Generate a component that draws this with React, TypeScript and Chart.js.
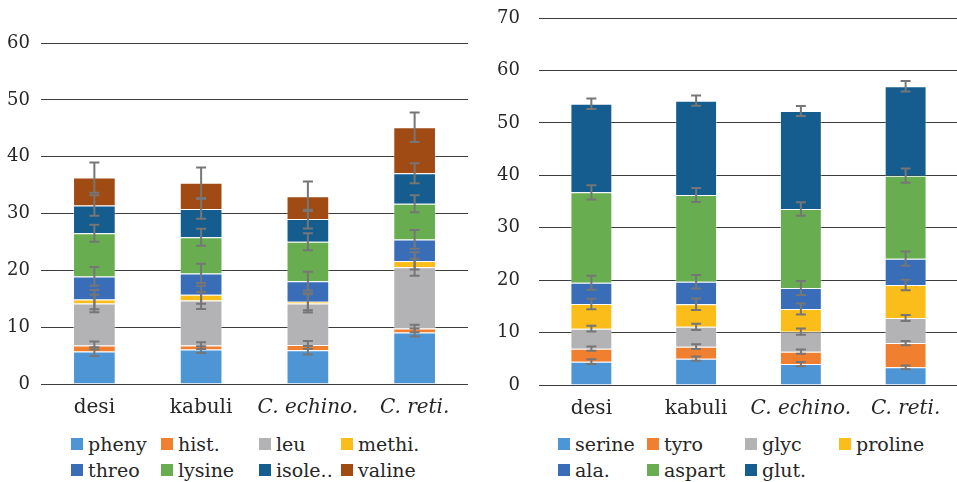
import React, { useEffect, useRef } from "react";
import { Chart, registerables } from "chart.js";

Chart.register(...registerables);

const FONT = "'DejaVu Serif', serif";
const TEXT_COLOR = "#262626";

// ---------- data ----------
const categories = ["desi", "kabuli", "C. echino.", "C. reti."];
const italicCategory = [false, false, true, true];

// Left chart (essential amino acids)
const leftNames = ["pheny", "hist.", "leu", "methi.", "threo", "lysine", "isole..", "valine"];
const leftColors = ["#4e95d6", "#f08030", "#b3b3b6", "#fbbd19", "#3a6db8", "#68ae50", "#155d8e", "#a04b14"];
const pheny = [5.7, 6.05, 5.94, 9.06];
const hist = [1.06, 0.71, 0.94, 0.7];
const leu = [7.4, 7.94, 7.3, 10.8];
const methi = [0.7, 1.0, 0.3, 1.1];
const threo = [4.06, 3.76, 3.6, 3.77];
const lysine = [7.6, 6.35, 6.94, 6.3];
const isole = [4.9, 5.0, 4.0, 5.35];
const valine = [4.9, 4.6, 4.0, 8.1];

const phenyErr = [0.76, 0.6, 0.75, 0.7];
const histErr = [0.7, 0.6, 0.7, 0.65];
const leuErr = [1.55, 1.5, 1.6, 1.5];
const methiErr = [1.7, 1.6, 1.5, 1.5];
const threoErr = [1.65, 1.7, 1.65, 1.65];
const lysineErr = [1.5, 1.5, 1.5, 1.5];
const isoleErr = [1.8, 1.75, 1.65, 1.75];
const valineErr = [2.65, 2.7, 2.6, 2.6];

const leftTicksMax = 60;

// Right chart (non-essential amino acids)
const rightNames = ["serine", "tyro", "glyc", "proline", "ala.", "aspart", "glut."];
const rightColors = ["#4e95d6", "#f08030", "#b3b3b6", "#fbbd19", "#3a6db8", "#68ae50", "#155d8e"];
const serine = [4.45, 5.02, 4.0, 3.37];
const tyro = [2.48, 2.28, 2.35, 4.63];
const glyc = [3.81, 3.8, 3.82, 4.78];
const proline = [4.71, 4.3, 4.33, 6.29];
const ala = [4.05, 4.3, 4.0, 5.03];
const aspart = [17.25, 16.54, 15.07, 15.83];
const glut = [16.9, 18.0, 18.7, 17.04];

const serineErr = [0.45, 0.4, 0.4, 0.35];
const tyroErr = [0.4, 0.45, 0.4, 0.4];
const glycErr = [0.55, 0.6, 0.6, 0.55];
const prolineErr = [1.0, 1.1, 1.05, 1.0];
const alaErr = [1.35, 1.3, 1.35, 1.35];
const aspartErr = [1.35, 1.35, 1.3, 1.35];
const glutErr = [1.0, 1.0, 0.95, 1.0];

const rightTicksMax = 70;

const leftSeries = [pheny, hist, leu, methi, threo, lysine, isole, valine];
const leftErrors = [phenyErr, histErr, leuErr, methiErr, threoErr, lysineErr, isoleErr, valineErr];
const rightSeries = [serine, tyro, glyc, proline, ala, aspart, glut];
const rightErrors = [serineErr, tyroErr, glycErr, prolineErr, alaErr, aspartErr, glutErr];

type ChartProps = {
  names: string[];
  colors: string[];
  series: number[][];
  errors: number[][];
  max: number;
  width: number;
  height: number;
  padTop: number;
  padRight: number;
  yWidth: number;
  yPad: number;
};

function StackedChart(p: ChartProps) {
  const ref = useRef<HTMLCanvasElement | null>(null);
  useEffect(() => {
    if (!ref.current) return;
    const errorBars = {
      id: "errorBars",
      afterDatasetsDraw(chart: any) {
        const ctx = chart.ctx;
        const y = chart.scales.y;
        ctx.save();
        ctx.strokeStyle = "#767676";
        ctx.lineWidth = 2;
        chart.data.datasets.forEach((ds: any, i: number) => {
          const meta = chart.getDatasetMeta(i);
          meta.data.forEach((bar: any, j: number) => {
            let cum = 0;
            for (let k = 0; k <= i; k++) cum += chart.data.datasets[k].data[j];
            const e = p.errors[i][j];
            const yt = y.getPixelForValue(cum + e);
            const yb = y.getPixelForValue(cum - e);
            const x = bar.x;
            ctx.beginPath();
            ctx.moveTo(x, yt);
            ctx.lineTo(x, yb);
            ctx.moveTo(x - 5, yt);
            ctx.lineTo(x + 5, yt);
            ctx.moveTo(x - 5, yb);
            ctx.lineTo(x + 5, yb);
            ctx.stroke();
          });
        });
        ctx.restore();
      },
    };
    const chart = new Chart(ref.current, {
      type: "bar",
      data: {
        labels: categories,
        datasets: p.series.map((d, i) => ({
          label: p.names[i],
          data: d,
          backgroundColor: p.colors[i],
          borderColor: "rgba(255,255,255,0.35)",
          borderWidth: 1,
          barPercentage: 0.4,
          categoryPercentage: 1,
        })),
      },
      options: {
        animation: false,
        responsive: false,
        maintainAspectRatio: false,
        layout: { padding: { top: p.padTop, right: p.padRight, left: 0, bottom: 0 } },
        plugins: { legend: { display: false }, tooltip: { enabled: false } },
        scales: {
          x: {
            stacked: true,
            grid: { display: false },
            border: { display: false },
            afterFit: (s: any) => {
              s.height = 40;
              s.paddingLeft = 0;
              s.paddingRight = 0;
            },
            ticks: {
              padding: 4,
              maxRotation: 0,
              minRotation: 0,
              autoSkip: false,
              color: TEXT_COLOR,
              font: (c: any) => ({
                family: FONT,
                size: 20,
                style: italicCategory[c.index] ? "italic" : "normal",
              }),
            },
          },
          y: {
            stacked: true,
            min: 0,
            max: p.max,
            afterFit: (s: any) => {
              s.width = p.yWidth;
              s.paddingTop = 0;
              s.paddingBottom = 0;
            },
            grid: { color: "#3d3d3d", lineWidth: 1, drawTicks: false },
            border: { display: false },
            ticks: {
              stepSize: 10,
              padding: p.yPad,
              color: TEXT_COLOR,
              font: { family: FONT, size: 18 },
            },
          },
        },
      },
      plugins: [errorBars],
    } as any);
    return () => chart.destroy();
  }, []);
  return <canvas ref={ref} width={p.width} height={p.height} style={{ display: "block" }} />;
}

function Legend(props: { names: string[]; colors: string[]; left: number; cols: string }) {
  return (
    <div
      style={{
        position: "absolute",
        left: props.left,
        top: 431,
        display: "grid",
        gridTemplateColumns: props.cols,
        fontFamily: FONT,
        fontSize: 19,
        color: TEXT_COLOR,
      }}
    >
      {props.names.map((n, i) => (
        <div key={n} style={{ display: "flex", alignItems: "center", height: 26, whiteSpace: "nowrap" }}>
          <span style={{ width: 12, height: 12, background: props.colors[i], marginRight: 5, flex: "none" }} />
          <span style={{ lineHeight: "26px" }}>{n}</span>
        </div>
      ))}
    </div>
  );
}

export default function App() {
  return (
    <div style={{ position: "fixed", left: 0, top: 0, width: 957, height: 482, background: "#fff", overflow: "hidden" }}>
      <div style={{ position: "absolute", left: 0, top: 0 }}>
        <StackedChart
          names={leftNames}
          colors={leftColors}
          series={leftSeries}
          errors={leftErrors}
          max={leftTicksMax}
          width={478}
          height={424}
          padTop={43}
          padRight={10}
          yWidth={41}
          yPad={11}
        />
      </div>
      <div style={{ position: "absolute", left: 480, top: 0 }}>
        <StackedChart
          names={rightNames}
          colors={rightColors}
          series={rightSeries}
          errors={rightErrors}
          max={rightTicksMax}
          width={478}
          height={425}
          padTop={18}
          padRight={0}
          yWidth={59}
          yPad={19}
        />
      </div>
      <Legend names={leftNames} colors={leftColors} left={71} cols="90px 98px 82px auto" />
      <Legend names={rightNames} colors={rightColors} left={558} cols="89px 98px 94px auto" />
    </div>
  );
}
